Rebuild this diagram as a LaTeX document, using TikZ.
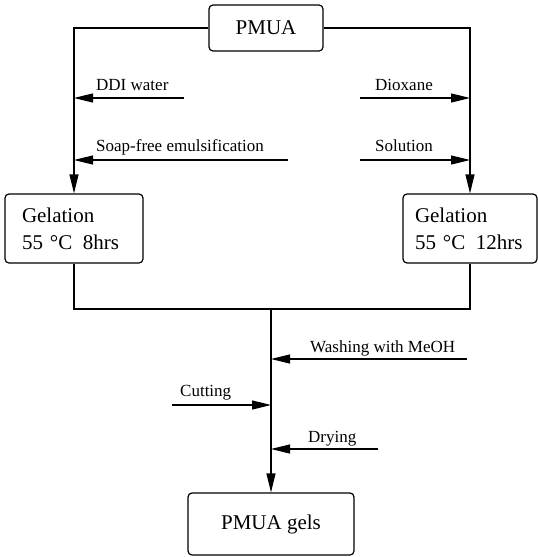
\documentclass[tikz,border=0pt]{standalone}
\usepackage{fontspec}
\setmainfont{Liberation Serif}
\usetikzlibrary{arrows.meta}
\tikzset{
box/.style={draw,rounded corners=4pt,line width=1.2pt,font=\fontsize{21}{27}\selectfont},
gelbox/.style={box,align=left,minimum height=69pt,text width=104pt,inner xsep=17pt},
note/.style={font=\fontsize{17}{20}\selectfont,inner sep=0pt,anchor=base west},
arrow/.style={-{Triangle[length=19pt,width=9pt]},line width=1.2pt},
flow/.style={line width=1.2pt}
}

\begin{document}
\begin{tikzpicture}[x=1pt,y=-1pt]
\useasboundingbox (0,0) rectangle (538,557);
\node[box,minimum width=114pt,minimum height=46pt] (pmua) at (266,28) {PMUA};
\node[gelbox] (gelL) at (74,228.5) {Gelation\\55 \textdegree C\enspace 8hrs};
\node[gelbox,text width=110pt,inner xsep=12pt] (gelR) at (470,228.5) {Gelation\\55 \textdegree C\enspace 12hrs};
\node[box,minimum width=166pt,minimum height=62pt] (gels) at (271,524) {PMUA gels};
\coordinate (join) at (271,309);

% feeds into the two routes
\coordinate (tDDI) at (184,98);
\coordinate (tSoap) at (288,160);
\coordinate (tDiox) at (360,98);
\coordinate (tSol) at (360,160);
\node[note] (lDDI) at (96,90) {DDI water};
\node[note] (lSoap) at (96,151) {Soap-free emulsification};
\node[note] (lDiox) at (375,90) {Dioxane};
\node[note] (lSol) at (375,151) {Solution};

\draw[arrow] (pmua.west) -| (gelL.north);
\draw[arrow] (pmua.east) -| (gelR.north);
\draw[arrow] (tDDI) -- (tDDI -| gelL.north);
\draw[arrow] (tSoap) -- (tSoap -| gelL.north);
\draw[arrow] (tDiox) -- (tDiox -| gelR.north);
\draw[arrow] (tSol) -- (tSol -| gelR.north);

% merge and after-treatment
\draw[flow] (gelL.south) |- (join) -| (gelR.south);
\draw[arrow] (join) -- (gels.north);
\coordinate (tWash) at (467,359);
\coordinate (tCut) at (172,405);
\coordinate (tDry) at (378,449);
\node[note] (lWash) at (310,352) {Washing with MeOH};
\node[note] (lCut) at (180,396) {Cutting};
\node[note] (lDry) at (308,442) {Drying};
\draw[arrow] (tWash) -- (tWash -| join);
\draw[arrow] (tCut) -- (tCut -| join);
\draw[arrow] (tDry) -- (tDry -| join);
\end{tikzpicture}
\end{document}
